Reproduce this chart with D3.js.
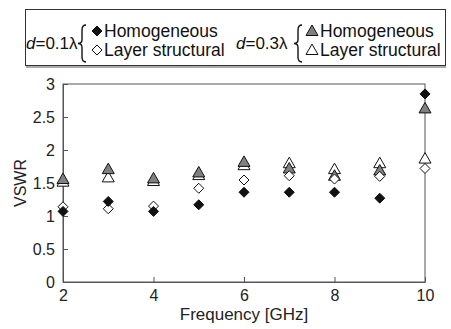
<!DOCTYPE html>
<html><head><meta charset="utf-8">
<script src="https://cdn.jsdelivr.net/npm/d3@7/dist/d3.min.js"></script>
<style>
html,body{margin:0;padding:0;background:#fff;}
svg{display:block;font-family:"Liberation Sans",Arial,sans-serif;}
</style></head>
<body>
<svg id="chart" width="451" height="329"></svg>
<script>
const frequencies = [2, 3, 4, 5, 6, 7, 8, 9, 10];
const homog01 = [1.07, 1.22, 1.07, 1.17, 1.36, 1.36, 1.36, 1.27, 2.85];
const layer01 = [1.14, 1.11, 1.15, 1.42, 1.545, 1.61, 1.56, 1.60, 1.72];
const homog03 = [1.56, 1.71, 1.57, 1.66, 1.82, 1.72, 1.61, 1.69, 2.63];
const layer03 = [1.52, 1.585, 1.53, 1.62, 1.77, 1.80, 1.71, 1.80, 1.87];
const xTicks = [2, 4, 6, 8, 10];
const yTicks = [0, 0.5, 1, 1.5, 2, 2.5, 3];
const yTickLabels = ["0", "0.5", "1", "1.5", "2", "2.5", "3"];

const svg = d3.select("#chart");
const x = d3.scaleLinear().domain([2, 10]).range([63, 425]);
const y = d3.scaleLinear().domain([0, 3]).range([282, 84]);
const axisColor = "#555";

// frame
svg.append("rect").attr("x", x(2)).attr("y", y(3))
  .attr("width", x(10) - x(2)).attr("height", y(0) - y(3))
  .attr("fill", "none").attr("stroke", axisColor).attr("stroke-width", 1);

const xAxis = svg.append("g").attr("transform", `translate(0,${y(0)})`)
  .call(d3.axisBottom(x).tickValues(xTicks).tickFormat(d3.format("d")).tickSizeInner(-5).tickSizeOuter(0).tickPadding(8));
const yAxis = svg.append("g").attr("transform", `translate(${x(2)},0)`)
  .call(d3.axisLeft(y).tickValues(yTicks).tickFormat((d, i) => yTickLabels[i]).tickSizeInner(-5).tickSizeOuter(0).tickPadding(8));
[xAxis, yAxis].forEach(g => {
  g.select(".domain").attr("stroke", axisColor);
  g.selectAll(".tick line").attr("stroke", axisColor);
  g.selectAll(".tick text").attr("fill", "#222").attr("font-size", 16)
    .attr("font-family", "'Liberation Sans', Arial, sans-serif");
});

svg.append("text").attr("x", 244).attr("y", 320).attr("text-anchor", "middle")
  .attr("font-size", 17).attr("fill", "#222").text("Frequency [GHz]");
svg.append("text").attr("transform", "translate(26,183) rotate(-90)").attr("text-anchor", "middle")
  .attr("font-size", 16).attr("fill", "#222").text("VSWR");

// marker shapes
function diamond(cx, cy) { return `M${cx},${cy-5}L${cx+5},${cy}L${cx},${cy+5}L${cx-5},${cy}Z`; }
function triangle(cx, cy) { return `M${cx},${cy-6}L${cx+6},${cy+4.5}L${cx-6},${cy+4.5}Z`; }

const series = [
  {vals: layer03, shape: triangle, fill: "#fff"},
  {vals: homog03, shape: triangle, fill: "#808080"},
  {vals: layer01, shape: diamond, fill: "#fff"},
  {vals: homog01, shape: diamond, fill: "#111"}
];
series.forEach(s => {
  svg.append("g").selectAll("path").data(frequencies).join("path")
    .attr("d", (f, i) => s.shape(x(f), y(s.vals[i])))
    .attr("fill", s.fill).attr("stroke", "#111").attr("stroke-width", 1);
});

// legend
const lg = svg.append("g");
lg.append("line").attr("x1", 26).attr("x2", 446).attr("y1", 67).attr("y2", 67)
  .attr("stroke", "#aaa").attr("stroke-width", 2);
lg.append("rect").attr("x", 25.5).attr("y", 9.5).attr("width", 420).attr("height", 56)
  .attr("fill", "#fff").attr("stroke", "#333").attr("stroke-width", 1);

function brace(x0, top, bottom) {
  const mid = (top + bottom) / 2, xm = x0 - 4;
  return `M${x0},${top}Q${xm},${top} ${xm},${top+5}L${xm},${mid-4}Q${xm},${mid} ${x0-8},${mid}` +
         `Q${xm},${mid} ${xm},${mid+4}L${xm},${bottom-5}Q${xm},${bottom} ${x0},${bottom}`;
}
const groups = [
  {label: "0.1λ", tx: 26, bx: 86, mx: 97, tx2: 104, shapes: [diamond, diamond], fills: ["#111", "#fff"]},
  {label: "0.3λ", tx: 236, bx: 302, mx: 312, tx2: 320, shapes: [triangle, triangle], fills: ["#808080", "#fff"]}
];
const names = ["Homogeneous", "Layer structural"];
groups.forEach(gp => {
  const t = lg.append("text").attr("x", gp.tx).attr("y", 49).attr("font-size", 17).attr("fill", "#111");
  t.append("tspan").attr("font-style", "italic").text("d");
  t.append("tspan").text("=" + gp.label);
  lg.append("path").attr("d", brace(gp.bx, 25, 62)).attr("fill", "none").attr("stroke", "#111").attr("stroke-width", 1.4);
  [31, 50].forEach((yy, i) => {
    lg.append("path").attr("d", gp.shapes[i](gp.mx, yy)).attr("fill", gp.fills[i]).attr("stroke", "#111").attr("stroke-width", 1);
    lg.append("text").attr("x", gp.tx2).attr("y", yy + 6).attr("font-size", 17.5).attr("fill", "#111").text(names[i]);
  });
});
</script>
</body></html>
